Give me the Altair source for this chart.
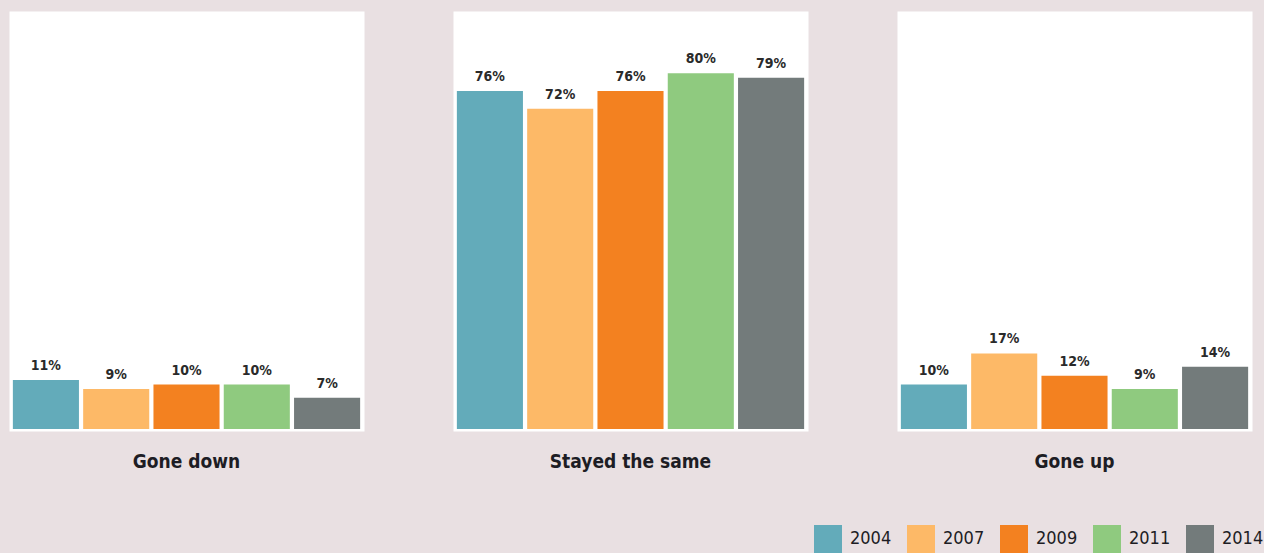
import altair as alt
import pandas as pd

categories = ["Gone down", "Stayed the same", "Gone up"]
years = ["2004", "2007", "2009", "2011", "2014"]
gone_down = [11, 9, 10, 10, 7]
stayed_same = [76, 72, 76, 80, 79]
gone_up = [10, 17, 12, 9, 14]
colors = ["#63abba", "#fdb967", "#f38120", "#8fca7f", "#737b7b"]

rows = []
for cat, vals in zip(categories, [gone_down, stayed_same, gone_up]):
    for y, v in zip(years, vals):
        rows.append({"cat": cat, "year": y, "value": v, "label": f"{v}%"})
df = pd.DataFrame(rows)

FONT = "DejaVu Sans Condensed"

x = alt.X("year:N", sort=years, axis=None,
          scale=alt.Scale(paddingInner=0.06, paddingOuter=0.055))
y = alt.Y("value:Q", axis=None, scale=alt.Scale(domain=[-0.45, 94], nice=False, zero=False))

bars = alt.Chart().mark_bar().encode(
    x=x,
    y=y,
    y2=alt.datum(0),
    color=alt.Color("year:N", sort=years,
                    scale=alt.Scale(domain=years, range=colors),
                    legend=alt.Legend(orient="none", legendX=805, legendY=514,
                                      direction="horizontal", title=None,
                                      symbolType="square", symbolSize=784,
                                      symbolStrokeWidth=0, labelFontSize=18,
                                      labelFont=FONT, labelColor="#1d1d24",
                                      labelOffset=8, columnPadding=15,
                                      padding=0)),
)

text = alt.Chart().mark_text(dy=-7, baseline="bottom", fontSize=14,
                             fontWeight="bold", font=FONT, color="#2a2a2a").encode(
    x=x, y=y, text="label:N"
)

chart = alt.layer(bars, text, data=df).properties(width=355, height=420).facet(
    column=alt.Column("cat:N", sort=categories,
                      header=alt.Header(title=None, labelOrient="bottom",
                                        labelFontSize=19, labelFont=FONT,
                                        labelFontWeight="bold", labelColor="#1d1d24",
                                        labelBaseline="top", labelPadding=21))
).properties(
    spacing=87,
    background="#e9e0e2",
    padding={"left": 8, "top": 10, "right": 0, "bottom": 0},
).configure_view(fill="white", stroke="transparent")

chart.save("out.html", embed_options={"renderer": "svg", "actions": False})
